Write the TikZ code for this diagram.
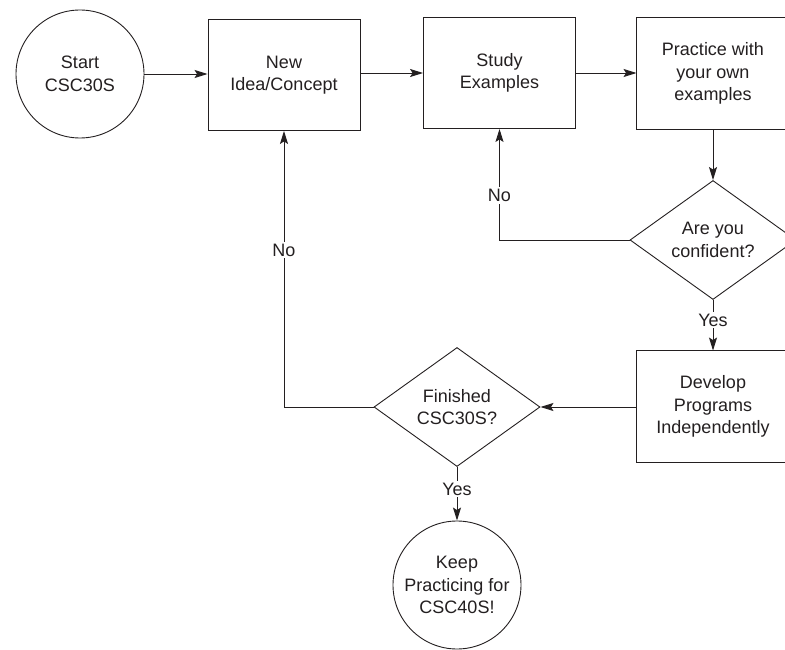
\documentclass[tikz,border=0pt]{standalone}
\usepackage{fontspec}
\setmainfont{Liberation Sans}
\usetikzlibrary{shapes.geometric,arrows.meta}
\definecolor{ink}{RGB}{35,31,32}
\begin{document}
\begin{tikzpicture}[x=1pt,y=-1pt,
  every node/.style={font=\fontsize{18}{22.5}\selectfont, text=ink, align=center},
  boxnode/.style={draw=ink, line width=0.9pt, rectangle, minimum width=152pt, minimum height=111pt, inner sep=0pt},
  openbox/.style={boxnode, draw=none},
  roundnode/.style={draw=ink, line width=0.9pt, circle, minimum size=128pt, inner sep=0pt},
  decnode/.style={draw=ink, line width=0.9pt, diamond, minimum width=166pt, minimum height=119pt, inner sep=0pt, aspect=1.4},
  conn/.style={draw=ink, line width=0.9pt, -{Stealth[length=13pt,width=8pt,inset=2.5pt]}},
  lbl/.style={fill=white, inner sep=2pt}]
\useasboundingbox (0,0) rectangle (785,650);
\begin{scope}
\clip (0,0) rectangle (785,650);
\node[roundnode] (start) at (80,74) {Start\\CSC30S};
\node[boxnode] (new) at (284,75) {New\\Idea/Concept};
\node[boxnode] (study) at (499.5,73) {Study\\Examples};
\node[openbox] (practice) at (713,73.5) {Practice with\\your own\\examples};
\draw[ink, line width=0.9pt] ([xshift=40pt]practice.north east) -- (practice.north west) -- (practice.south west) -- ([xshift=40pt]practice.south east);
\node[decnode] (conf) at (713,240) {Are you\\confident?};
\node[openbox] (develop) at (713,406.5) {Develop\\Programs\\Independently};
\draw[ink, line width=0.9pt] ([xshift=40pt]develop.north east) -- (develop.north west) -- (develop.south west) -- ([xshift=40pt]develop.south east);
\node[decnode] (fin) at (457,407) {Finished\\CSC30S?};
\node[roundnode] (keep) at (457,585) {Keep\\Practicing for\\CSC40S!};

\draw[conn] (start.east) -- (start.east -| new.west);
\draw[conn] (new.east |- study.west) -- (study.west);
\draw[conn] (study.east) -- (study.east -| practice.west);
\draw[conn] (practice.south) -- (conf.north);
\draw[conn] (conf.west) -| node[lbl, pos=0.70] {No} (study.south);
\draw[conn] (conf.south) -- node[lbl, pos=0.4] {Yes} (develop.north);
\draw[conn] (develop.west |- fin.east) -- (fin.east);
\draw[conn] (fin.west) -| node[lbl, pos=0.784] {No} (new.south);
\draw[conn] (fin.south) -- node[lbl, pos=0.41] {Yes} (keep.north);
\end{scope}
\end{tikzpicture}
\end{document}
